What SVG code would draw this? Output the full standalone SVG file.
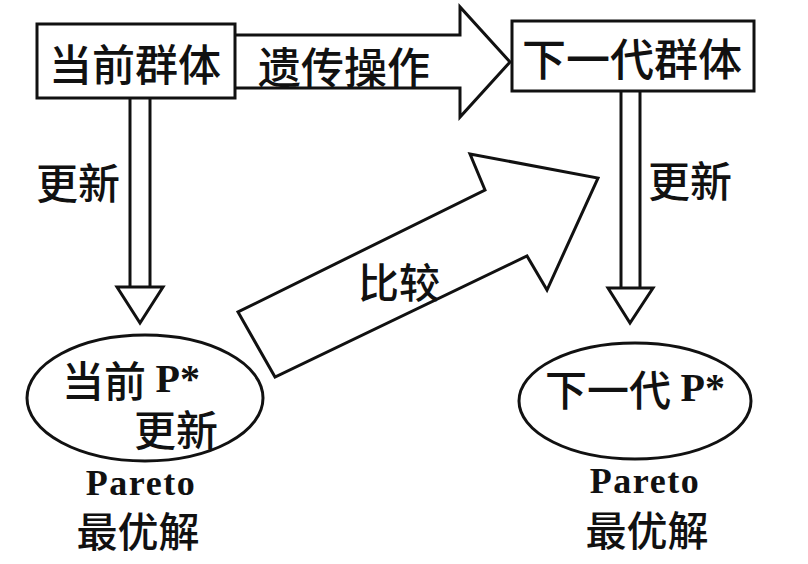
<svg xmlns="http://www.w3.org/2000/svg" width="808" height="564" viewBox="0 0 808 564">
<style>
.s{fill:#fff;stroke:#111;stroke-width:3;stroke-linejoin:miter}
.l{stroke:#111;stroke-width:3;fill:none}
.t{font-family:"Noto Sans CJK SC","Noto Sans CJK TC",sans-serif;font-weight:500;fill:#111;dominant-baseline:central}
.p{font-family:"Liberation Serif",serif;font-weight:bold;fill:#111}
</style>
<rect width="808" height="564" fill="#fff"/>
<g id="connectors">
  <path class="s" d="M235,35 L460,35 L460,7 L510,62 L460,117 L460,88 L235,88"/>
  <path class="s" d="M275,377 L238,312 L485,190 L470,154 L598,178 L547,290 L527,256 Z"/>
  <line class="l" x1="130" y1="98" x2="130" y2="287"/>
  <line class="l" x1="150" y1="98" x2="150" y2="287"/>
  <path class="s" d="M117,287 L130,287 M150,287 L163,287 L140,323 L117,287 Z"/>
  <line class="l" x1="621" y1="91" x2="621" y2="288"/>
  <line class="l" x1="640" y1="91" x2="640" y2="288"/>
  <path class="s" d="M608,288 L653,288 L630,323 Z"/>
  <text class="t" x="344" y="65" font-size="43" text-anchor="middle">遗传操作</text>
  <text class="t" x="78" y="180" font-size="42" text-anchor="middle">更新</text>
  <text class="t" x="690" y="178" font-size="42" text-anchor="middle">更新</text>
  <text class="t" x="399" y="280" font-size="41" text-anchor="middle">比较</text>
</g>
<g id="current-pop">
  <rect class="s" x="37" y="24" width="198" height="74"/>
  <text class="t" x="135" y="62" font-size="43" text-anchor="middle">当前群体</text>
</g>
<g id="next-pop">
  <rect class="s" x="512" y="21" width="242" height="70"/>
  <text class="t" x="632" y="57" font-size="44" text-anchor="middle">下一代群体</text>
</g>
<g id="current-pstar">
  <ellipse class="s" cx="145" cy="398" rx="118" ry="63"/>
  <text class="t" x="62" y="378" font-size="42">当前 <tspan class="p" font-size="40">P*</tspan></text>
  <text class="t" x="176" y="427" font-size="42" text-anchor="middle">更新</text>
  <text class="p" x="141" y="495" font-size="36" letter-spacing="1.5" text-anchor="middle">Pareto</text>
  <text class="t" x="138" y="529" font-size="41" text-anchor="middle">最优解</text>
</g>
<g id="next-pstar">
  <ellipse class="s" cx="635" cy="401" rx="116" ry="58"/>
  <text class="t" x="545" y="387" font-size="42">下一代 <tspan class="p" font-size="40">P*</tspan></text>
  <text class="p" x="645" y="493" font-size="36" letter-spacing="1.5" text-anchor="middle">Pareto</text>
  <text class="t" x="647" y="528" font-size="41" text-anchor="middle">最优解</text>
</g>
</svg>
